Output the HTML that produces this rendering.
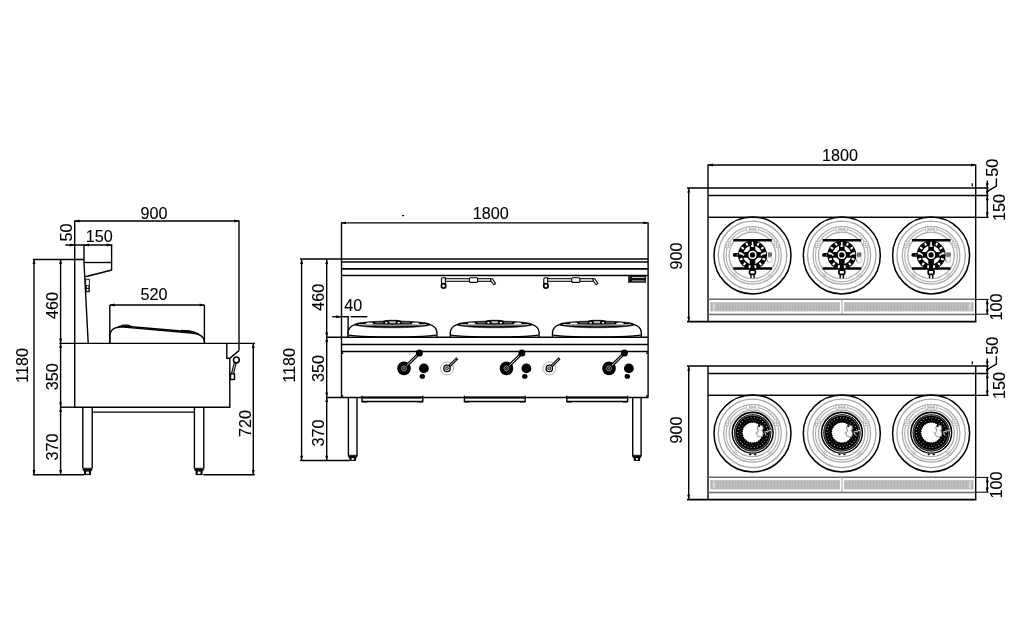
<!DOCTYPE html>
<html lang="en">
<head>
<meta charset="utf-8">
<title>Wok range dimension drawing</title>
<style>
html,body{margin:0;padding:0;background:#fff;}
body{width:1029px;height:640px;overflow:hidden;}
svg{display:block;will-change:transform;}
svg text{font-family:"Liberation Sans","DejaVu Sans",sans-serif;fill:#000;stroke:#000;stroke-width:0.1px;}
</style>
</head>
<body>
<svg width="1029" height="640" viewBox="0 0 1029 640" fill="none" stroke="#000" stroke-width="1.4" stroke-linecap="butt" stroke-linejoin="miter">
<defs>
<pattern id="hatch" width="3" height="4" patternUnits="userSpaceOnUse">
<rect x="0" y="0" width="3" height="4" fill="#bcbcbc" stroke="none"/>
<rect x="0" y="0" width="1" height="4" fill="#b4b4b4" stroke="none"/>
</pattern>
</defs>
<rect x="0" y="0" width="1029" height="640" fill="#fff" stroke="none"/>
<g id="side-view">
<line x1="74.70" y1="221.00" x2="239.00" y2="221.00"/>
<polygon points="74.70,221.00 79.50,219.55 79.50,222.45" fill="#000" stroke="none"/>
<polygon points="239.00,221.00 234.20,219.55 234.20,222.45" fill="#000" stroke="none"/>
<text x="154.00" y="218.50" font-size="16.2" text-anchor="middle">900</text>
<line x1="74.70" y1="220.40" x2="74.70" y2="407.20"/>
<line x1="239.00" y1="220.40" x2="239.00" y2="350.50"/>
<text transform="translate(72.40 232.50) rotate(-90)" font-size="16.2" text-anchor="middle">50</text>
<text x="99.30" y="242.00" font-size="16.2" text-anchor="middle">150</text>
<line x1="65.30" y1="245.00" x2="112.30" y2="245.00"/>
<polygon points="74.70,245.00 69.90,243.55 69.90,246.45" fill="#000" stroke="none"/>
<polygon points="84.00,245.00 88.80,243.55 88.80,246.45" fill="#000" stroke="none"/>
<polygon points="111.60,245.00 106.80,243.55 106.80,246.45" fill="#000" stroke="none"/>
<path d="M84 245 L84 262.5 L88.2 343.3"/>
<line x1="111.60" y1="245.00" x2="111.60" y2="270.20"/>
<line x1="84.00" y1="262.50" x2="111.60" y2="262.50"/>
<line x1="111.90" y1="270.00" x2="85.40" y2="276.70"/>
<line x1="33.00" y1="259.50" x2="84.00" y2="259.50"/>
<rect x="85.70" y="279.20" width="3.60" height="12.60" stroke-width="0.9"/>
<rect x="86.30" y="285.50" width="2.60" height="2.60" stroke-width="0.7"/>
<rect x="86.30" y="288.60" width="2.60" height="2.60" stroke-width="0.7"/>
<line x1="34.00" y1="259.30" x2="34.00" y2="474.70"/>
<polygon points="34.00,259.30 32.55,264.10 35.45,264.10" fill="#000" stroke="none"/>
<polygon points="34.00,474.70 32.55,469.90 35.45,469.90" fill="#000" stroke="none"/>
<line x1="60.60" y1="259.30" x2="60.60" y2="474.70"/>
<polygon points="60.60,259.30 59.15,264.10 62.05,264.10" fill="#000" stroke="none"/>
<polygon points="60.60,343.30 59.15,338.50 62.05,338.50" fill="#000" stroke="none"/>
<polygon points="60.60,343.30 59.15,348.10 62.05,348.10" fill="#000" stroke="none"/>
<polygon points="60.60,407.20 59.15,402.40 62.05,402.40" fill="#000" stroke="none"/>
<polygon points="60.60,407.20 59.15,412.00 62.05,412.00" fill="#000" stroke="none"/>
<polygon points="60.60,474.70 59.15,469.90 62.05,469.90" fill="#000" stroke="none"/>
<text transform="translate(27.60 365.50) rotate(-90)" font-size="16.2" text-anchor="middle">1180</text>
<text transform="translate(58.30 305.40) rotate(-90)" font-size="16.2" text-anchor="middle">460</text>
<text transform="translate(58.20 376.80) rotate(-90)" font-size="16.2" text-anchor="middle">350</text>
<text transform="translate(58.20 446.90) rotate(-90)" font-size="16.2" text-anchor="middle">370</text>
<line x1="59.40" y1="343.40" x2="255.00" y2="343.40"/>
<line x1="60.00" y1="407.20" x2="75.00" y2="407.20"/>
<text x="154.00" y="300.40" font-size="16.2" text-anchor="middle">520</text>
<line x1="109.80" y1="305.00" x2="204.40" y2="305.00"/>
<polygon points="109.80,305.00 114.60,303.55 114.60,306.45" fill="#000" stroke="none"/>
<polygon points="204.40,305.00 199.60,303.55 199.60,306.45" fill="#000" stroke="none"/>
<line x1="109.80" y1="305.00" x2="109.80" y2="343.30"/>
<line x1="204.40" y1="305.00" x2="204.40" y2="343.30"/>
<path d="M109.8 343 L109.8 335.8 C110 331.8 112.4 328.9 116 327.7 L121 326.9 L194 333.3 C199.6 334.2 203.6 336.9 204.4 340.8 L204.4 343" stroke-width="1.4"/>
<path d="M118 326.7 L122.5 325.9 L193 332.0 L198.5 333.9" stroke-width="1.5"/>
<path d="M121 325.8 L123.4 325.0 L128 325.1 L131 326.2" stroke-width="1.2"/>
<path d="M181 330.4 L189.5 330.8 L195 332.5" stroke-width="1.2"/>
<path d="M74.7 407.2 L229.8 407.2 L229.8 358.3"/>
<path d="M226.8 343.3 L226.8 358.3 L229.8 358.3 L239 350.6"/>
<path d="M235.4 362.4 L232.4 374" stroke-width="3.0"/>
<path d="M235.2 363.2 L232.6 373.4" stroke-width="0.8" stroke="#fff"/>
<circle cx="236.40" cy="359.90" r="2.90" stroke-width="1.5" fill="#fff"/>
<rect x="230.50" y="373.90" width="4.00" height="5.60" stroke-width="1.4" fill="#fff"/>
<line x1="82.80" y1="407.20" x2="82.80" y2="468.60"/>
<line x1="92.20" y1="407.20" x2="92.20" y2="468.60"/>
<rect x="83.00" y="468.20" width="9.00" height="2.60" stroke-width="0.6" fill="#000" rx="0.8"/>
<rect x="84.00" y="470.40" width="7.00" height="4.70" stroke-width="0" fill="#000"/>
<rect x="86.10" y="471.60" width="2.80" height="2.30" stroke-width="0" fill="#fff"/>
<line x1="194.40" y1="407.20" x2="194.40" y2="468.60"/>
<line x1="203.80" y1="407.20" x2="203.80" y2="468.60"/>
<rect x="194.60" y="468.20" width="9.00" height="2.60" stroke-width="0.6" fill="#000" rx="0.8"/>
<rect x="195.60" y="470.40" width="7.00" height="4.70" stroke-width="0" fill="#000"/>
<rect x="197.70" y="471.60" width="2.80" height="2.30" stroke-width="0" fill="#fff"/>
<line x1="92.20" y1="412.10" x2="194.40" y2="412.10"/>
<line x1="32.80" y1="474.70" x2="84.00" y2="474.70"/>
<line x1="203.40" y1="474.70" x2="254.80" y2="474.70"/>
<line x1="253.30" y1="343.30" x2="253.30" y2="474.70"/>
<polygon points="253.30,343.30 251.85,348.10 254.75,348.10" fill="#000" stroke="none"/>
<polygon points="253.30,474.70 251.85,469.90 254.75,469.90" fill="#000" stroke="none"/>
<text transform="translate(251.10 423.50) rotate(-90)" font-size="16.2" text-anchor="middle">720</text>
</g>
<g id="front-view">
<line x1="341.20" y1="222.90" x2="648.20" y2="222.90"/>
<polygon points="341.20,222.90 346.00,221.45 346.00,224.35" fill="#000" stroke="none"/>
<polygon points="648.20,222.90 643.40,221.45 643.40,224.35" fill="#000" stroke="none"/>
<text x="490.80" y="219.30" font-size="16.2" text-anchor="middle">1800</text>
<rect x="402.00" y="214.90" width="2.10" height="1.30" stroke-width="0" fill="#000" rx="0.4"/>
<line x1="341.50" y1="222.50" x2="341.50" y2="397.40"/>
<line x1="648.10" y1="222.50" x2="648.10" y2="397.40"/>
<line x1="300.00" y1="259.10" x2="648.20" y2="259.10" stroke-width="1.5"/>
<line x1="341.20" y1="262.00" x2="648.20" y2="262.00" stroke-width="1.5"/>
<line x1="341.20" y1="268.90" x2="648.20" y2="268.90" stroke-width="1.6"/>
<line x1="341.20" y1="275.50" x2="648.20" y2="275.50" stroke-width="1.3"/>
<line x1="301.60" y1="259.20" x2="301.60" y2="460.50"/>
<polygon points="301.60,259.20 300.15,264.00 303.05,264.00" fill="#000" stroke="none"/>
<polygon points="301.60,460.50 300.15,455.70 303.05,455.70" fill="#000" stroke="none"/>
<line x1="326.70" y1="259.20" x2="326.70" y2="460.50"/>
<polygon points="326.70,259.20 325.25,264.00 328.15,264.00" fill="#000" stroke="none"/>
<polygon points="326.70,337.30 325.25,332.50 328.15,332.50" fill="#000" stroke="none"/>
<polygon points="326.70,337.30 325.25,342.10 328.15,342.10" fill="#000" stroke="none"/>
<polygon points="326.70,397.20 325.25,392.40 328.15,392.40" fill="#000" stroke="none"/>
<polygon points="326.70,397.20 325.25,402.00 328.15,402.00" fill="#000" stroke="none"/>
<polygon points="326.70,460.50 325.25,455.70 328.15,455.70" fill="#000" stroke="none"/>
<text transform="translate(294.60 365.40) rotate(-90)" font-size="16.2" text-anchor="middle">1180</text>
<text transform="translate(324.20 297.30) rotate(-90)" font-size="16.2" text-anchor="middle">460</text>
<text transform="translate(324.20 368.40) rotate(-90)" font-size="16.2" text-anchor="middle">350</text>
<text transform="translate(324.20 433.10) rotate(-90)" font-size="16.2" text-anchor="middle">370</text>
<text x="353.30" y="310.70" font-size="16.2" text-anchor="middle">40</text>
<line x1="332.20" y1="316.70" x2="349.00" y2="316.70"/>
<line x1="350.70" y1="316.70" x2="367.30" y2="316.70"/>
<polygon points="341.20,316.70 336.40,315.25 336.40,318.15" fill="#000" stroke="none"/>
<line x1="348.10" y1="316.00" x2="348.10" y2="337.30"/>
<path d="M348.10 337.30 L348.10 331.90 C348.60 328.10 351.30 325.70 355.10 324.60 L429.90 324.60 C433.70 325.70 436.40 328.10 436.90 331.90 L436.90 337.30" stroke-width="1.4" fill="#fff"/>
<path d="M348.70 335.10 C360.10 336.60 370.10 336.80 378.10 336.80 L406.90 336.80 C414.90 336.80 424.90 336.60 436.30 335.10" stroke-width="1.1"/>
<ellipse cx="392.50" cy="324.40" rx="37.60" ry="3.40" stroke-width="0.5" fill="#000"/>
<path d="M383.50 321.30 Q386.50 320.40 388.50 320.30 L396.50 320.30 Q398.50 320.40 401.50 321.30 Z" stroke-width="0.8" fill="#000"/>
<path d="M358.50 324.50 Q392.50 325.90 426.50 324.50" stroke-width="0.8" stroke="#fff"/>
<path d="M361.50 325.20 Q392.50 326.90 423.50 325.20" stroke-width="0.6" stroke="#999"/>
<ellipse cx="369.50" cy="323.40" rx="3.80" ry="0.85" stroke-width="0" fill="#fff"/>
<rect x="375.30" y="322.40" width="8.00" height="0.90" stroke-width="0" fill="#9a9a9a"/>
<rect x="385.20" y="322.00" width="2.20" height="1.40" stroke-width="0" fill="#fff"/>
<ellipse cx="415.50" cy="323.40" rx="3.80" ry="0.85" stroke-width="0" fill="#fff"/>
<rect x="401.70" y="322.40" width="8.00" height="0.90" stroke-width="0" fill="#9a9a9a"/>
<rect x="397.60" y="322.00" width="2.20" height="1.40" stroke-width="0" fill="#fff"/>
<rect x="389.30" y="321.20" width="6.40" height="2.10" stroke-width="0" fill="#c0c0c0"/>
<path d="M450.30 337.30 L450.30 331.90 C450.80 328.10 453.50 325.70 457.30 324.60 L532.10 324.60 C535.90 325.70 538.60 328.10 539.10 331.90 L539.10 337.30" stroke-width="1.4" fill="#fff"/>
<path d="M450.90 335.10 C462.30 336.60 472.30 336.80 480.30 336.80 L509.10 336.80 C517.10 336.80 527.10 336.60 538.50 335.10" stroke-width="1.1"/>
<ellipse cx="494.70" cy="324.40" rx="37.60" ry="3.40" stroke-width="0.5" fill="#000"/>
<path d="M485.70 321.30 Q488.70 320.40 490.70 320.30 L498.70 320.30 Q500.70 320.40 503.70 321.30 Z" stroke-width="0.8" fill="#000"/>
<path d="M460.70 324.50 Q494.70 325.90 528.70 324.50" stroke-width="0.8" stroke="#fff"/>
<path d="M463.70 325.20 Q494.70 326.90 525.70 325.20" stroke-width="0.6" stroke="#999"/>
<ellipse cx="471.70" cy="323.40" rx="3.80" ry="0.85" stroke-width="0" fill="#fff"/>
<rect x="477.50" y="322.40" width="8.00" height="0.90" stroke-width="0" fill="#9a9a9a"/>
<rect x="487.40" y="322.00" width="2.20" height="1.40" stroke-width="0" fill="#fff"/>
<ellipse cx="517.70" cy="323.40" rx="3.80" ry="0.85" stroke-width="0" fill="#fff"/>
<rect x="503.90" y="322.40" width="8.00" height="0.90" stroke-width="0" fill="#9a9a9a"/>
<rect x="499.80" y="322.00" width="2.20" height="1.40" stroke-width="0" fill="#fff"/>
<rect x="491.50" y="321.20" width="6.40" height="2.10" stroke-width="0" fill="#c0c0c0"/>
<path d="M552.50 337.30 L552.50 331.90 C553.00 328.10 555.70 325.70 559.50 324.60 L634.30 324.60 C638.10 325.70 640.80 328.10 641.30 331.90 L641.30 337.30" stroke-width="1.4" fill="#fff"/>
<path d="M553.10 335.10 C564.50 336.60 574.50 336.80 582.50 336.80 L611.30 336.80 C619.30 336.80 629.30 336.60 640.70 335.10" stroke-width="1.1"/>
<ellipse cx="596.90" cy="324.40" rx="37.60" ry="3.40" stroke-width="0.5" fill="#000"/>
<path d="M587.90 321.30 Q590.90 320.40 592.90 320.30 L600.90 320.30 Q602.90 320.40 605.90 321.30 Z" stroke-width="0.8" fill="#000"/>
<path d="M562.90 324.50 Q596.90 325.90 630.90 324.50" stroke-width="0.8" stroke="#fff"/>
<path d="M565.90 325.20 Q596.90 326.90 627.90 325.20" stroke-width="0.6" stroke="#999"/>
<ellipse cx="573.90" cy="323.40" rx="3.80" ry="0.85" stroke-width="0" fill="#fff"/>
<rect x="579.70" y="322.40" width="8.00" height="0.90" stroke-width="0" fill="#9a9a9a"/>
<rect x="589.60" y="322.00" width="2.20" height="1.40" stroke-width="0" fill="#fff"/>
<ellipse cx="619.90" cy="323.40" rx="3.80" ry="0.85" stroke-width="0" fill="#fff"/>
<rect x="606.10" y="322.40" width="8.00" height="0.90" stroke-width="0" fill="#9a9a9a"/>
<rect x="602.00" y="322.00" width="2.20" height="1.40" stroke-width="0" fill="#fff"/>
<rect x="593.70" y="321.20" width="6.40" height="2.10" stroke-width="0" fill="#c0c0c0"/>
<line x1="326.00" y1="337.30" x2="648.20" y2="337.30" stroke-width="1.5"/>
<line x1="341.20" y1="344.50" x2="648.20" y2="344.50" stroke-width="1.3"/>
<line x1="341.20" y1="351.60" x2="648.20" y2="351.60" stroke-width="1.5"/>
<line x1="326.00" y1="397.40" x2="648.20" y2="397.40" stroke-width="1.5"/>
<line x1="300.00" y1="460.50" x2="349.50" y2="460.50"/>
<rect x="341.60" y="352.40" width="1.60" height="1.60" stroke-width="0" fill="#000"/>
<rect x="646.20" y="352.40" width="1.60" height="1.60" stroke-width="0" fill="#000"/>
<rect x="341.60" y="395.00" width="1.60" height="1.60" stroke-width="0" fill="#000"/>
<rect x="646.20" y="395.00" width="1.60" height="1.60" stroke-width="0" fill="#000"/>
<line x1="348.40" y1="397.40" x2="348.40" y2="456.20"/>
<line x1="357.00" y1="397.40" x2="357.00" y2="456.20"/>
<rect x="348.50" y="455.20" width="8.40" height="2.60" stroke-width="0.6" fill="#000" rx="0.8"/>
<rect x="349.40" y="457.00" width="6.60" height="3.90" stroke-width="0" fill="#000"/>
<rect x="351.60" y="458.10" width="2.20" height="1.80" stroke-width="0" fill="#fff"/>
<line x1="632.70" y1="397.40" x2="632.70" y2="456.20"/>
<line x1="641.10" y1="397.40" x2="641.10" y2="456.20"/>
<rect x="632.80" y="455.20" width="8.20" height="2.60" stroke-width="0.6" fill="#000" rx="0.8"/>
<rect x="633.70" y="457.00" width="6.40" height="3.90" stroke-width="0" fill="#000"/>
<rect x="635.90" y="458.10" width="2.00" height="1.80" stroke-width="0" fill="#fff"/>
<path d="M362.00 395.8 L362.00 401.5 L422.80 401.5 L422.80 395.8" stroke-width="1.4"/>
<line x1="362.00" y1="397.60" x2="422.80" y2="397.60" stroke-width="2.0"/>
<line x1="362.20" y1="402.00" x2="367.20" y2="402.00" stroke-width="1.0"/>
<line x1="417.60" y1="402.00" x2="422.60" y2="402.00" stroke-width="1.0"/>
<path d="M464.40 395.8 L464.40 401.5 L525.20 401.5 L525.20 395.8" stroke-width="1.4"/>
<line x1="464.40" y1="397.60" x2="525.20" y2="397.60" stroke-width="2.0"/>
<line x1="464.60" y1="402.00" x2="469.60" y2="402.00" stroke-width="1.0"/>
<line x1="520.00" y1="402.00" x2="525.00" y2="402.00" stroke-width="1.0"/>
<path d="M566.80 395.8 L566.80 401.5 L627.60 401.5 L627.60 395.8" stroke-width="1.4"/>
<line x1="566.80" y1="397.60" x2="627.60" y2="397.60" stroke-width="2.0"/>
<line x1="567.00" y1="402.00" x2="572.00" y2="402.00" stroke-width="1.0"/>
<line x1="622.40" y1="402.00" x2="627.40" y2="402.00" stroke-width="1.0"/>
<ellipse cx="422.30" cy="376.40" rx="2.70" ry="2.40" stroke-width="0" fill="#000"/>
<circle cx="423.90" cy="368.40" r="4.90" stroke-width="0" fill="#000"/>
<circle cx="404.00" cy="368.40" r="6.80" stroke-width="0" fill="#000"/>
<line x1="405.50" y1="366.90" x2="419.40" y2="353.10" stroke-width="3.0"/>
<line x1="406.80" y1="365.60" x2="417.60" y2="354.90" stroke-width="0.9" stroke="#fff"/>
<circle cx="419.40" cy="353.10" r="3.50" stroke-width="0" fill="#000"/>
<circle cx="404.00" cy="368.40" r="2.50" stroke-width="0.6" stroke="#d8d8d8" fill="#000"/>
<circle cx="404.00" cy="368.40" r="0.90" stroke-width="0.5" stroke="#e8e8e8" fill="#000"/>
<ellipse cx="524.80" cy="376.40" rx="2.70" ry="2.40" stroke-width="0" fill="#000"/>
<circle cx="526.40" cy="368.40" r="4.90" stroke-width="0" fill="#000"/>
<circle cx="506.50" cy="368.40" r="6.80" stroke-width="0" fill="#000"/>
<line x1="508.00" y1="366.90" x2="521.90" y2="353.10" stroke-width="3.0"/>
<line x1="509.30" y1="365.60" x2="520.10" y2="354.90" stroke-width="0.9" stroke="#fff"/>
<circle cx="521.90" cy="353.10" r="3.50" stroke-width="0" fill="#000"/>
<circle cx="506.50" cy="368.40" r="2.50" stroke-width="0.6" stroke="#d8d8d8" fill="#000"/>
<circle cx="506.50" cy="368.40" r="0.90" stroke-width="0.5" stroke="#e8e8e8" fill="#000"/>
<ellipse cx="627.30" cy="376.40" rx="2.70" ry="2.40" stroke-width="0" fill="#000"/>
<circle cx="628.90" cy="368.40" r="4.90" stroke-width="0" fill="#000"/>
<circle cx="609.00" cy="368.40" r="6.80" stroke-width="0" fill="#000"/>
<line x1="610.50" y1="366.90" x2="624.40" y2="353.10" stroke-width="3.0"/>
<line x1="611.80" y1="365.60" x2="622.60" y2="354.90" stroke-width="0.9" stroke="#fff"/>
<circle cx="624.40" cy="353.10" r="3.50" stroke-width="0" fill="#000"/>
<circle cx="609.00" cy="368.40" r="2.50" stroke-width="0.6" stroke="#d8d8d8" fill="#000"/>
<circle cx="609.00" cy="368.40" r="0.90" stroke-width="0.5" stroke="#e8e8e8" fill="#000"/>
<circle cx="447.00" cy="368.40" r="6.50" stroke-width="1.0" stroke="#b0b0b0" fill="#fff"/>
<line x1="448.50" y1="366.90" x2="457.30" y2="358.20" stroke-width="2.8"/>
<line x1="449.60" y1="365.80" x2="456.40" y2="359.10" stroke-width="0.8" stroke="#fff"/>
<circle cx="447.00" cy="368.40" r="3.20" stroke-width="1.3" fill="#fff"/>
<circle cx="447.00" cy="368.40" r="1.50" stroke-width="0.9" fill="#aaa"/>
<circle cx="549.30" cy="368.40" r="6.50" stroke-width="1.0" stroke="#b0b0b0" fill="#fff"/>
<line x1="550.80" y1="366.90" x2="559.60" y2="358.20" stroke-width="2.8"/>
<line x1="551.90" y1="365.80" x2="558.70" y2="359.10" stroke-width="0.8" stroke="#fff"/>
<circle cx="549.30" cy="368.40" r="3.20" stroke-width="1.3" fill="#fff"/>
<circle cx="549.30" cy="368.40" r="1.50" stroke-width="0.9" fill="#aaa"/>
<path d="M441.50 284.20 L441.50 279.00 Q441.50 277.70 442.80 277.70 L445.40 277.70 L445.40 284.20" stroke-width="1.15" fill="#fff"/>
<circle cx="443.60" cy="285.90" r="2.20" stroke-width="1.7" fill="#fff"/>
<rect x="445.40" y="278.70" width="45.60" height="2.60" stroke-width="1.05" fill="#fff"/>
<rect x="469.40" y="277.70" width="8.20" height="4.60" stroke-width="1.15" fill="#fff" rx="1.0"/>
<path d="M490.40 278.70 L492.40 278.70 L495.60 283.40 L493.80 284.80 L491.20 281.30 Z" stroke-width="1.1" fill="#fff"/>
<path d="M543.80 284.20 L543.80 279.00 Q543.80 277.70 545.10 277.70 L547.70 277.70 L547.70 284.20" stroke-width="1.15" fill="#fff"/>
<circle cx="545.90" cy="285.90" r="2.20" stroke-width="1.7" fill="#fff"/>
<rect x="547.70" y="278.70" width="45.60" height="2.60" stroke-width="1.05" fill="#fff"/>
<rect x="571.70" y="277.70" width="8.20" height="4.60" stroke-width="1.15" fill="#fff" rx="1.0"/>
<path d="M592.70 278.70 L594.70 278.70 L597.90 283.40 L596.10 284.80 L593.50 281.30 Z" stroke-width="1.1" fill="#fff"/>
<rect x="628.40" y="276.20" width="17.40" height="6.20" stroke-width="0.5" fill="#111"/>
<rect x="632.00" y="277.00" width="12.60" height="0.90" stroke-width="0" fill="#e0e0e0"/>
<rect x="632.00" y="280.20" width="12.60" height="1.20" stroke-width="0" fill="#8a8a8a"/>
<rect x="629.40" y="277.20" width="1.40" height="1.40" stroke-width="0" fill="#444"/>
</g>
<g id="top-view-a">
<line x1="708.00" y1="165.00" x2="975.70" y2="165.00"/>
<polygon points="708.00,165.00 712.80,163.55 712.80,166.45" fill="#000" stroke="none"/>
<polygon points="975.70,165.00 970.90,163.55 970.90,166.45" fill="#000" stroke="none"/>
<text x="840.00" y="161.40" font-size="16.2" text-anchor="middle">1800</text>
<line x1="708.00" y1="164.40" x2="708.00" y2="188.00"/>
<line x1="975.70" y1="164.40" x2="975.70" y2="188.00"/>
<line x1="708.00" y1="188.00" x2="708.00" y2="321.60"/>
<line x1="975.70" y1="188.00" x2="975.70" y2="321.60"/>
<line x1="687.00" y1="188.00" x2="988.60" y2="188.00" stroke-width="1.3"/>
<line x1="708.00" y1="195.50" x2="988.60" y2="195.50" stroke-width="1.5"/>
<line x1="708.00" y1="217.40" x2="988.60" y2="217.40" stroke-width="1.3"/>
<line x1="687.00" y1="321.70" x2="976.40" y2="321.70" stroke-width="1.7"/>
<line x1="688.70" y1="188.00" x2="688.70" y2="321.60"/>
<polygon points="688.70,188.00 687.25,192.80 690.15,192.80" fill="#000" stroke="none"/>
<polygon points="688.70,321.60 687.25,316.80 690.15,316.80" fill="#000" stroke="none"/>
<text transform="translate(682.40 255.90) rotate(-90)" font-size="16.2" text-anchor="middle">900</text>
<line x1="987.30" y1="180.40" x2="987.30" y2="217.40"/>
<polygon points="987.30,188.00 985.85,183.20 988.75,183.20" fill="#000" stroke="none"/>
<polygon points="987.30,195.50 985.85,200.30 988.75,200.30" fill="#000" stroke="none"/>
<polygon points="987.30,195.50 985.85,190.70 988.75,190.70" fill="#000" stroke="none"/>
<polygon points="987.30,217.40 985.85,212.60 988.75,212.60" fill="#000" stroke="none"/>
<path d="M987.3 191.40 L996.4 186.20 L996.4 178.20" stroke-width="1.4"/>
<text transform="translate(998.10 167.80) rotate(-90)" font-size="16.2" text-anchor="middle">50</text>
<text transform="translate(1005.10 207.40) rotate(-90)" font-size="16.2" text-anchor="middle">150</text>
<line x1="972.30" y1="183.20" x2="972.30" y2="186.20" stroke-width="1.3"/>
<circle cx="752.50" cy="255.40" r="38.50" stroke-width="1.5" fill="#fff"/>
<circle cx="752.50" cy="255.40" r="34.20" stroke-width="1.3" stroke="#a4a4a4"/>
<circle cx="752.50" cy="255.40" r="28.80" stroke-width="1.3" stroke="#ababab"/>
<circle cx="752.50" cy="255.40" r="26.40" stroke-width="1.2" stroke="#b4b4b4"/>
<circle cx="752.50" cy="255.40" r="23.30" stroke-width="1.3" stroke="#ababab"/>
<rect x="746.80" y="227.00" width="2.40" height="4.20" stroke-width="0.6" stroke="#a4a4a4" fill="#fff"/>
<rect x="755.80" y="227.00" width="2.40" height="4.20" stroke-width="0.6" stroke="#a4a4a4" fill="#fff"/>
<line x1="749.20" y1="229.00" x2="755.80" y2="229.00" stroke-width="0.6" stroke="#a4a4a4"/>
<line x1="749.20" y1="230.20" x2="755.80" y2="230.20" stroke-width="0.6" stroke="#a4a4a4"/>
<rect x="726.10" y="241.80" width="4.80" height="5.60" stroke-width="0.6" stroke="#a4a4a4" fill="#fff"/>
<line x1="726.10" y1="243.70" x2="730.90" y2="243.70" stroke-width="0.6" stroke="#a4a4a4"/>
<line x1="726.10" y1="245.50" x2="730.90" y2="245.50" stroke-width="0.6" stroke="#a4a4a4"/>
<line x1="728.50" y1="241.80" x2="728.50" y2="247.40" stroke-width="0.6" stroke="#a4a4a4"/>
<line x1="736.61" y1="272.03" x2="732.46" y2="276.36" stroke-width="0.7" stroke="#a4a4a4"/>
<line x1="737.93" y1="273.20" x2="734.13" y2="277.84" stroke-width="0.7" stroke="#a4a4a4"/>
<rect x="774.10" y="241.80" width="4.80" height="5.60" stroke-width="0.6" stroke="#a4a4a4" fill="#fff"/>
<line x1="774.10" y1="243.70" x2="778.90" y2="243.70" stroke-width="0.6" stroke="#a4a4a4"/>
<line x1="774.10" y1="245.50" x2="778.90" y2="245.50" stroke-width="0.6" stroke="#a4a4a4"/>
<line x1="776.50" y1="241.80" x2="776.50" y2="247.40" stroke-width="0.6" stroke="#a4a4a4"/>
<line x1="768.39" y1="272.03" x2="772.54" y2="276.36" stroke-width="0.7" stroke="#a4a4a4"/>
<line x1="767.07" y1="273.20" x2="770.87" y2="277.84" stroke-width="0.7" stroke="#a4a4a4"/>
<line x1="733.30" y1="240.20" x2="771.90" y2="240.20" stroke-width="2.5"/>
<line x1="733.30" y1="268.50" x2="771.90" y2="268.50" stroke-width="2.5"/>
<line x1="734.70" y1="254.90" x2="739.50" y2="254.90" stroke-width="3.9" stroke-linecap="round"/>
<rect x="736.70" y="254.40" width="1.30" height="1.00" stroke-width="0" fill="#ccc"/>
<rect x="768.10" y="252.90" width="3.60" height="3.40" stroke-width="0.6" stroke="#444" fill="#777"/>
<polygon points="766.10,258.50 771.30,256.90 772.50,261.50 767.70,263.10" fill="#fff" stroke="#b4b4b4" stroke-width="0.7"/>
<line x1="765.70" y1="257.90" x2="768.10" y2="261.50" stroke-width="0.8" stroke="#555"/>
<circle cx="752.50" cy="254.90" r="14.50" stroke-width="0" fill="#000"/>
<circle cx="752.50" cy="254.90" r="7.60" stroke-width="3.6" stroke="#fff"/>
<line x1="757.43" y1="245.51" x2="758.77" y2="242.95" stroke-width="1.9" stroke="#fff"/>
<line x1="761.22" y1="248.88" x2="763.61" y2="247.23" stroke-width="1.9" stroke="#fff"/>
<line x1="763.02" y1="253.62" x2="765.90" y2="253.27" stroke-width="1.9" stroke="#fff"/>
<line x1="762.41" y1="258.66" x2="765.12" y2="259.69" stroke-width="1.9" stroke="#fff"/>
<line x1="759.53" y1="262.83" x2="761.45" y2="265.00" stroke-width="1.9" stroke="#fff"/>
<line x1="755.04" y1="265.19" x2="755.73" y2="268.01" stroke-width="1.9" stroke="#fff"/>
<line x1="749.96" y1="265.19" x2="749.27" y2="268.01" stroke-width="1.9" stroke="#fff"/>
<line x1="745.47" y1="262.83" x2="743.55" y2="265.00" stroke-width="1.9" stroke="#fff"/>
<line x1="742.59" y1="258.66" x2="739.88" y2="259.69" stroke-width="1.9" stroke="#fff"/>
<line x1="741.98" y1="253.62" x2="739.10" y2="253.27" stroke-width="1.9" stroke="#fff"/>
<line x1="743.78" y1="248.88" x2="741.39" y2="247.23" stroke-width="1.9" stroke="#fff"/>
<line x1="747.57" y1="245.51" x2="746.23" y2="242.95" stroke-width="1.9" stroke="#fff"/>
<rect x="749.70" y="244.70" width="5.60" height="20.40" stroke-width="0" fill="#000"/>
<rect x="742.30" y="252.10" width="20.40" height="5.60" stroke-width="0" fill="#000"/>
<path d="M752.50 241.70 L752.50 246.50" stroke-width="1.5" stroke="#fff"/>
<path d="M751.00 246.10 L754.00 246.10" stroke-width="1.3" stroke="#fff"/>
<path d="M739.50 253.30 Q742.10 252.70 744.10 255.50" stroke-width="1.5" stroke="#fff"/>
<path d="M765.50 253.30 Q762.90 252.70 760.90 255.50" stroke-width="1.5" stroke="#fff"/>
<rect x="750.90" y="263.40" width="3.20" height="6.50" stroke-width="0" fill="#000"/>
<circle cx="752.50" cy="254.90" r="3.35" stroke-width="1.4" stroke="#fff" fill="#000"/>
<rect x="749.60" y="270.10" width="5.80" height="4.20" stroke-width="1.8" fill="#fff" rx="1.2"/>
<line x1="750.90" y1="274.70" x2="750.90" y2="278.10" stroke-width="1.4"/>
<line x1="754.10" y1="274.70" x2="754.10" y2="278.10" stroke-width="1.4"/>
<circle cx="841.80" cy="255.40" r="38.50" stroke-width="1.5" fill="#fff"/>
<circle cx="841.80" cy="255.40" r="34.20" stroke-width="1.3" stroke="#a4a4a4"/>
<circle cx="841.80" cy="255.40" r="28.80" stroke-width="1.3" stroke="#ababab"/>
<circle cx="841.80" cy="255.40" r="26.40" stroke-width="1.2" stroke="#b4b4b4"/>
<circle cx="841.80" cy="255.40" r="23.30" stroke-width="1.3" stroke="#ababab"/>
<rect x="836.10" y="227.00" width="2.40" height="4.20" stroke-width="0.6" stroke="#a4a4a4" fill="#fff"/>
<rect x="845.10" y="227.00" width="2.40" height="4.20" stroke-width="0.6" stroke="#a4a4a4" fill="#fff"/>
<line x1="838.50" y1="229.00" x2="845.10" y2="229.00" stroke-width="0.6" stroke="#a4a4a4"/>
<line x1="838.50" y1="230.20" x2="845.10" y2="230.20" stroke-width="0.6" stroke="#a4a4a4"/>
<rect x="815.40" y="241.80" width="4.80" height="5.60" stroke-width="0.6" stroke="#a4a4a4" fill="#fff"/>
<line x1="815.40" y1="243.70" x2="820.20" y2="243.70" stroke-width="0.6" stroke="#a4a4a4"/>
<line x1="815.40" y1="245.50" x2="820.20" y2="245.50" stroke-width="0.6" stroke="#a4a4a4"/>
<line x1="817.80" y1="241.80" x2="817.80" y2="247.40" stroke-width="0.6" stroke="#a4a4a4"/>
<line x1="825.91" y1="272.03" x2="821.76" y2="276.36" stroke-width="0.7" stroke="#a4a4a4"/>
<line x1="827.23" y1="273.20" x2="823.43" y2="277.84" stroke-width="0.7" stroke="#a4a4a4"/>
<rect x="863.40" y="241.80" width="4.80" height="5.60" stroke-width="0.6" stroke="#a4a4a4" fill="#fff"/>
<line x1="863.40" y1="243.70" x2="868.20" y2="243.70" stroke-width="0.6" stroke="#a4a4a4"/>
<line x1="863.40" y1="245.50" x2="868.20" y2="245.50" stroke-width="0.6" stroke="#a4a4a4"/>
<line x1="865.80" y1="241.80" x2="865.80" y2="247.40" stroke-width="0.6" stroke="#a4a4a4"/>
<line x1="857.69" y1="272.03" x2="861.84" y2="276.36" stroke-width="0.7" stroke="#a4a4a4"/>
<line x1="856.37" y1="273.20" x2="860.17" y2="277.84" stroke-width="0.7" stroke="#a4a4a4"/>
<line x1="822.60" y1="240.20" x2="861.20" y2="240.20" stroke-width="2.5"/>
<line x1="822.60" y1="268.50" x2="861.20" y2="268.50" stroke-width="2.5"/>
<line x1="824.00" y1="254.90" x2="828.80" y2="254.90" stroke-width="3.9" stroke-linecap="round"/>
<rect x="826.00" y="254.40" width="1.30" height="1.00" stroke-width="0" fill="#ccc"/>
<rect x="857.40" y="252.90" width="3.60" height="3.40" stroke-width="0.6" stroke="#444" fill="#777"/>
<polygon points="855.40,258.50 860.60,256.90 861.80,261.50 857.00,263.10" fill="#fff" stroke="#b4b4b4" stroke-width="0.7"/>
<line x1="855.00" y1="257.90" x2="857.40" y2="261.50" stroke-width="0.8" stroke="#555"/>
<circle cx="841.80" cy="254.90" r="14.50" stroke-width="0" fill="#000"/>
<circle cx="841.80" cy="254.90" r="7.60" stroke-width="3.6" stroke="#fff"/>
<line x1="846.73" y1="245.51" x2="848.07" y2="242.95" stroke-width="1.9" stroke="#fff"/>
<line x1="850.52" y1="248.88" x2="852.91" y2="247.23" stroke-width="1.9" stroke="#fff"/>
<line x1="852.32" y1="253.62" x2="855.20" y2="253.27" stroke-width="1.9" stroke="#fff"/>
<line x1="851.71" y1="258.66" x2="854.42" y2="259.69" stroke-width="1.9" stroke="#fff"/>
<line x1="848.83" y1="262.83" x2="850.75" y2="265.00" stroke-width="1.9" stroke="#fff"/>
<line x1="844.34" y1="265.19" x2="845.03" y2="268.01" stroke-width="1.9" stroke="#fff"/>
<line x1="839.26" y1="265.19" x2="838.57" y2="268.01" stroke-width="1.9" stroke="#fff"/>
<line x1="834.77" y1="262.83" x2="832.85" y2="265.00" stroke-width="1.9" stroke="#fff"/>
<line x1="831.89" y1="258.66" x2="829.18" y2="259.69" stroke-width="1.9" stroke="#fff"/>
<line x1="831.28" y1="253.62" x2="828.40" y2="253.27" stroke-width="1.9" stroke="#fff"/>
<line x1="833.08" y1="248.88" x2="830.69" y2="247.23" stroke-width="1.9" stroke="#fff"/>
<line x1="836.87" y1="245.51" x2="835.53" y2="242.95" stroke-width="1.9" stroke="#fff"/>
<rect x="839.00" y="244.70" width="5.60" height="20.40" stroke-width="0" fill="#000"/>
<rect x="831.60" y="252.10" width="20.40" height="5.60" stroke-width="0" fill="#000"/>
<path d="M841.80 241.70 L841.80 246.50" stroke-width="1.5" stroke="#fff"/>
<path d="M840.30 246.10 L843.30 246.10" stroke-width="1.3" stroke="#fff"/>
<path d="M828.80 253.30 Q831.40 252.70 833.40 255.50" stroke-width="1.5" stroke="#fff"/>
<path d="M854.80 253.30 Q852.20 252.70 850.20 255.50" stroke-width="1.5" stroke="#fff"/>
<rect x="840.20" y="263.40" width="3.20" height="6.50" stroke-width="0" fill="#000"/>
<circle cx="841.80" cy="254.90" r="3.35" stroke-width="1.4" stroke="#fff" fill="#000"/>
<rect x="838.90" y="270.10" width="5.80" height="4.20" stroke-width="1.8" fill="#fff" rx="1.2"/>
<line x1="840.20" y1="274.70" x2="840.20" y2="278.10" stroke-width="1.4"/>
<line x1="843.40" y1="274.70" x2="843.40" y2="278.10" stroke-width="1.4"/>
<circle cx="931.10" cy="255.40" r="38.50" stroke-width="1.5" fill="#fff"/>
<circle cx="931.10" cy="255.40" r="34.20" stroke-width="1.3" stroke="#a4a4a4"/>
<circle cx="931.10" cy="255.40" r="28.80" stroke-width="1.3" stroke="#ababab"/>
<circle cx="931.10" cy="255.40" r="26.40" stroke-width="1.2" stroke="#b4b4b4"/>
<circle cx="931.10" cy="255.40" r="23.30" stroke-width="1.3" stroke="#ababab"/>
<rect x="925.40" y="227.00" width="2.40" height="4.20" stroke-width="0.6" stroke="#a4a4a4" fill="#fff"/>
<rect x="934.40" y="227.00" width="2.40" height="4.20" stroke-width="0.6" stroke="#a4a4a4" fill="#fff"/>
<line x1="927.80" y1="229.00" x2="934.40" y2="229.00" stroke-width="0.6" stroke="#a4a4a4"/>
<line x1="927.80" y1="230.20" x2="934.40" y2="230.20" stroke-width="0.6" stroke="#a4a4a4"/>
<rect x="904.70" y="241.80" width="4.80" height="5.60" stroke-width="0.6" stroke="#a4a4a4" fill="#fff"/>
<line x1="904.70" y1="243.70" x2="909.50" y2="243.70" stroke-width="0.6" stroke="#a4a4a4"/>
<line x1="904.70" y1="245.50" x2="909.50" y2="245.50" stroke-width="0.6" stroke="#a4a4a4"/>
<line x1="907.10" y1="241.80" x2="907.10" y2="247.40" stroke-width="0.6" stroke="#a4a4a4"/>
<line x1="915.21" y1="272.03" x2="911.06" y2="276.36" stroke-width="0.7" stroke="#a4a4a4"/>
<line x1="916.53" y1="273.20" x2="912.73" y2="277.84" stroke-width="0.7" stroke="#a4a4a4"/>
<rect x="952.70" y="241.80" width="4.80" height="5.60" stroke-width="0.6" stroke="#a4a4a4" fill="#fff"/>
<line x1="952.70" y1="243.70" x2="957.50" y2="243.70" stroke-width="0.6" stroke="#a4a4a4"/>
<line x1="952.70" y1="245.50" x2="957.50" y2="245.50" stroke-width="0.6" stroke="#a4a4a4"/>
<line x1="955.10" y1="241.80" x2="955.10" y2="247.40" stroke-width="0.6" stroke="#a4a4a4"/>
<line x1="946.99" y1="272.03" x2="951.14" y2="276.36" stroke-width="0.7" stroke="#a4a4a4"/>
<line x1="945.67" y1="273.20" x2="949.47" y2="277.84" stroke-width="0.7" stroke="#a4a4a4"/>
<line x1="911.90" y1="240.20" x2="950.50" y2="240.20" stroke-width="2.5"/>
<line x1="911.90" y1="268.50" x2="950.50" y2="268.50" stroke-width="2.5"/>
<line x1="913.30" y1="254.90" x2="918.10" y2="254.90" stroke-width="3.9" stroke-linecap="round"/>
<rect x="915.30" y="254.40" width="1.30" height="1.00" stroke-width="0" fill="#ccc"/>
<rect x="946.70" y="252.90" width="3.60" height="3.40" stroke-width="0.6" stroke="#444" fill="#777"/>
<polygon points="944.70,258.50 949.90,256.90 951.10,261.50 946.30,263.10" fill="#fff" stroke="#b4b4b4" stroke-width="0.7"/>
<line x1="944.30" y1="257.90" x2="946.70" y2="261.50" stroke-width="0.8" stroke="#555"/>
<circle cx="931.10" cy="254.90" r="14.50" stroke-width="0" fill="#000"/>
<circle cx="931.10" cy="254.90" r="7.60" stroke-width="3.6" stroke="#fff"/>
<line x1="936.03" y1="245.51" x2="937.37" y2="242.95" stroke-width="1.9" stroke="#fff"/>
<line x1="939.82" y1="248.88" x2="942.21" y2="247.23" stroke-width="1.9" stroke="#fff"/>
<line x1="941.62" y1="253.62" x2="944.50" y2="253.27" stroke-width="1.9" stroke="#fff"/>
<line x1="941.01" y1="258.66" x2="943.72" y2="259.69" stroke-width="1.9" stroke="#fff"/>
<line x1="938.13" y1="262.83" x2="940.05" y2="265.00" stroke-width="1.9" stroke="#fff"/>
<line x1="933.64" y1="265.19" x2="934.33" y2="268.01" stroke-width="1.9" stroke="#fff"/>
<line x1="928.56" y1="265.19" x2="927.87" y2="268.01" stroke-width="1.9" stroke="#fff"/>
<line x1="924.07" y1="262.83" x2="922.15" y2="265.00" stroke-width="1.9" stroke="#fff"/>
<line x1="921.19" y1="258.66" x2="918.48" y2="259.69" stroke-width="1.9" stroke="#fff"/>
<line x1="920.58" y1="253.62" x2="917.70" y2="253.27" stroke-width="1.9" stroke="#fff"/>
<line x1="922.38" y1="248.88" x2="919.99" y2="247.23" stroke-width="1.9" stroke="#fff"/>
<line x1="926.17" y1="245.51" x2="924.83" y2="242.95" stroke-width="1.9" stroke="#fff"/>
<rect x="928.30" y="244.70" width="5.60" height="20.40" stroke-width="0" fill="#000"/>
<rect x="920.90" y="252.10" width="20.40" height="5.60" stroke-width="0" fill="#000"/>
<path d="M931.10 241.70 L931.10 246.50" stroke-width="1.5" stroke="#fff"/>
<path d="M929.60 246.10 L932.60 246.10" stroke-width="1.3" stroke="#fff"/>
<path d="M918.10 253.30 Q920.70 252.70 922.70 255.50" stroke-width="1.5" stroke="#fff"/>
<path d="M944.10 253.30 Q941.50 252.70 939.50 255.50" stroke-width="1.5" stroke="#fff"/>
<rect x="929.50" y="263.40" width="3.20" height="6.50" stroke-width="0" fill="#000"/>
<circle cx="931.10" cy="254.90" r="3.35" stroke-width="1.4" stroke="#fff" fill="#000"/>
<rect x="928.20" y="270.10" width="5.80" height="4.20" stroke-width="1.8" fill="#fff" rx="1.2"/>
<line x1="929.50" y1="274.70" x2="929.50" y2="278.10" stroke-width="1.4"/>
<line x1="932.70" y1="274.70" x2="932.70" y2="278.10" stroke-width="1.4"/>
<line x1="708.00" y1="217.40" x2="975.70" y2="217.40" stroke-width="1.3"/>
<line x1="708.00" y1="299.30" x2="975.70" y2="299.30" stroke-width="1.5" stroke="#6a6a6a"/>
<line x1="708.00" y1="314.40" x2="975.70" y2="314.40" stroke-width="1.5" stroke="#6a6a6a"/>
<rect x="710.2" y="302.20" width="129.8" height="9.2" fill="url(#hatch)" stroke="none"/>
<rect x="844" y="302.20" width="129.6" height="9.2" fill="url(#hatch)" stroke="none"/>
<line x1="842.00" y1="299.30" x2="842.00" y2="314.40" stroke-width="0.9" stroke="#999"/>
<polygon points="713.20,302.20 714.80,304.40 714.80,309.20 713.20,311.40" fill="#fff" stroke="none" opacity="0.55"/>
<polygon points="970.60,302.20 969.00,304.40 969.00,309.20 970.60,311.40" fill="#fff" stroke="none" opacity="0.55"/>
<line x1="975.70" y1="299.40" x2="988.60" y2="299.40" stroke-width="1.0"/>
<line x1="975.70" y1="314.20" x2="988.60" y2="314.20" stroke-width="1.0"/>
<line x1="987.30" y1="299.40" x2="987.30" y2="314.20"/>
<polygon points="987.30,299.40 985.85,304.20 988.75,304.20" fill="#000" stroke="none"/>
<polygon points="987.30,314.20 985.85,309.40 988.75,309.40" fill="#000" stroke="none"/>
<text transform="translate(1002.10 306.90) rotate(-90)" font-size="16.2" text-anchor="middle">100</text>
</g>
<g id="top-view-b">
<line x1="708.00" y1="366.00" x2="708.00" y2="499.60"/>
<line x1="975.70" y1="366.00" x2="975.70" y2="499.60"/>
<line x1="687.00" y1="366.00" x2="988.60" y2="366.00" stroke-width="1.3"/>
<line x1="708.00" y1="373.50" x2="988.60" y2="373.50" stroke-width="1.5"/>
<line x1="708.00" y1="395.40" x2="988.60" y2="395.40" stroke-width="1.3"/>
<line x1="687.00" y1="499.70" x2="976.40" y2="499.70" stroke-width="1.7"/>
<line x1="688.70" y1="366.00" x2="688.70" y2="499.60"/>
<polygon points="688.70,366.00 687.25,370.80 690.15,370.80" fill="#000" stroke="none"/>
<polygon points="688.70,499.60 687.25,494.80 690.15,494.80" fill="#000" stroke="none"/>
<text transform="translate(682.40 429.90) rotate(-90)" font-size="16.2" text-anchor="middle">900</text>
<line x1="987.30" y1="358.40" x2="987.30" y2="395.40"/>
<polygon points="987.30,366.00 985.85,361.20 988.75,361.20" fill="#000" stroke="none"/>
<polygon points="987.30,373.50 985.85,378.30 988.75,378.30" fill="#000" stroke="none"/>
<polygon points="987.30,373.50 985.85,368.70 988.75,368.70" fill="#000" stroke="none"/>
<polygon points="987.30,395.40 985.85,390.60 988.75,390.60" fill="#000" stroke="none"/>
<path d="M987.3 369.40 L996.4 364.20 L996.4 356.20" stroke-width="1.4"/>
<text transform="translate(998.10 345.80) rotate(-90)" font-size="16.2" text-anchor="middle">50</text>
<text transform="translate(1005.10 385.40) rotate(-90)" font-size="16.2" text-anchor="middle">150</text>
<line x1="972.30" y1="361.20" x2="972.30" y2="364.20" stroke-width="1.3"/>
<circle cx="752.50" cy="433.40" r="38.50" stroke-width="1.5" fill="#fff"/>
<circle cx="752.50" cy="433.40" r="34.20" stroke-width="1.3" stroke="#a4a4a4"/>
<circle cx="752.50" cy="433.40" r="28.80" stroke-width="1.3" stroke="#ababab"/>
<circle cx="752.50" cy="433.40" r="26.40" stroke-width="1.2" stroke="#b4b4b4"/>
<circle cx="752.50" cy="433.40" r="23.30" stroke-width="1.3" stroke="#ababab"/>
<rect x="746.80" y="405.00" width="2.40" height="4.20" stroke-width="0.6" stroke="#a4a4a4" fill="#fff"/>
<rect x="755.80" y="405.00" width="2.40" height="4.20" stroke-width="0.6" stroke="#a4a4a4" fill="#fff"/>
<line x1="749.20" y1="407.00" x2="755.80" y2="407.00" stroke-width="0.6" stroke="#a4a4a4"/>
<line x1="749.20" y1="408.20" x2="755.80" y2="408.20" stroke-width="0.6" stroke="#a4a4a4"/>
<rect x="726.10" y="419.80" width="4.80" height="5.60" stroke-width="0.6" stroke="#a4a4a4" fill="#fff"/>
<line x1="726.10" y1="421.70" x2="730.90" y2="421.70" stroke-width="0.6" stroke="#a4a4a4"/>
<line x1="726.10" y1="423.50" x2="730.90" y2="423.50" stroke-width="0.6" stroke="#a4a4a4"/>
<line x1="728.50" y1="419.80" x2="728.50" y2="425.40" stroke-width="0.6" stroke="#a4a4a4"/>
<line x1="736.61" y1="450.03" x2="732.46" y2="454.36" stroke-width="0.7" stroke="#a4a4a4"/>
<line x1="737.93" y1="451.20" x2="734.13" y2="455.84" stroke-width="0.7" stroke="#a4a4a4"/>
<rect x="774.10" y="419.80" width="4.80" height="5.60" stroke-width="0.6" stroke="#a4a4a4" fill="#fff"/>
<line x1="774.10" y1="421.70" x2="778.90" y2="421.70" stroke-width="0.6" stroke="#a4a4a4"/>
<line x1="774.10" y1="423.50" x2="778.90" y2="423.50" stroke-width="0.6" stroke="#a4a4a4"/>
<line x1="776.50" y1="419.80" x2="776.50" y2="425.40" stroke-width="0.6" stroke="#a4a4a4"/>
<line x1="768.39" y1="450.03" x2="772.54" y2="454.36" stroke-width="0.7" stroke="#a4a4a4"/>
<line x1="767.07" y1="451.20" x2="770.87" y2="455.84" stroke-width="0.7" stroke="#a4a4a4"/>
<circle cx="752.65" cy="432.60" r="15.80" stroke-width="10.7" fill="#fff"/>
<circle cx="752.65" cy="432.90" r="19.20" stroke-width="1.0" stroke="#fff"/>
<circle cx="752.65" cy="432.80" r="17.50" stroke-width="0.7" stroke="#909090"/>
<circle cx="767.65" cy="432.60" r="0.50" stroke-width="0" fill="#e4e4e4"/>
<circle cx="767.32" cy="435.72" r="0.50" stroke-width="0" fill="#e4e4e4"/>
<circle cx="766.35" cy="438.70" r="0.50" stroke-width="0" fill="#e4e4e4"/>
<circle cx="764.79" cy="441.42" r="0.50" stroke-width="0" fill="#e4e4e4"/>
<circle cx="762.69" cy="443.75" r="0.50" stroke-width="0" fill="#e4e4e4"/>
<circle cx="760.15" cy="445.59" r="0.50" stroke-width="0" fill="#e4e4e4"/>
<circle cx="757.29" cy="446.87" r="0.50" stroke-width="0" fill="#e4e4e4"/>
<circle cx="754.22" cy="447.52" r="0.50" stroke-width="0" fill="#e4e4e4"/>
<circle cx="751.08" cy="447.52" r="0.50" stroke-width="0" fill="#e4e4e4"/>
<circle cx="748.01" cy="446.87" r="0.50" stroke-width="0" fill="#e4e4e4"/>
<circle cx="745.15" cy="445.59" r="0.50" stroke-width="0" fill="#e4e4e4"/>
<circle cx="742.61" cy="443.75" r="0.50" stroke-width="0" fill="#e4e4e4"/>
<circle cx="740.51" cy="441.42" r="0.50" stroke-width="0" fill="#e4e4e4"/>
<circle cx="738.95" cy="438.70" r="0.50" stroke-width="0" fill="#e4e4e4"/>
<circle cx="737.98" cy="435.72" r="0.50" stroke-width="0" fill="#e4e4e4"/>
<circle cx="737.65" cy="432.60" r="0.50" stroke-width="0" fill="#e4e4e4"/>
<circle cx="737.98" cy="429.48" r="0.50" stroke-width="0" fill="#e4e4e4"/>
<circle cx="738.95" cy="426.50" r="0.50" stroke-width="0" fill="#e4e4e4"/>
<circle cx="740.51" cy="423.78" r="0.50" stroke-width="0" fill="#e4e4e4"/>
<circle cx="742.61" cy="421.45" r="0.50" stroke-width="0" fill="#e4e4e4"/>
<circle cx="745.15" cy="419.61" r="0.50" stroke-width="0" fill="#e4e4e4"/>
<circle cx="748.01" cy="418.33" r="0.50" stroke-width="0" fill="#e4e4e4"/>
<circle cx="751.08" cy="417.68" r="0.50" stroke-width="0" fill="#e4e4e4"/>
<circle cx="754.22" cy="417.68" r="0.50" stroke-width="0" fill="#e4e4e4"/>
<circle cx="757.29" cy="418.33" r="0.50" stroke-width="0" fill="#e4e4e4"/>
<circle cx="760.15" cy="419.61" r="0.50" stroke-width="0" fill="#e4e4e4"/>
<circle cx="762.69" cy="421.45" r="0.50" stroke-width="0" fill="#e4e4e4"/>
<circle cx="764.79" cy="423.78" r="0.50" stroke-width="0" fill="#e4e4e4"/>
<circle cx="766.35" cy="426.50" r="0.50" stroke-width="0" fill="#e4e4e4"/>
<circle cx="767.32" cy="429.48" r="0.50" stroke-width="0" fill="#e4e4e4"/>
<circle cx="765.16" cy="434.12" r="0.45" stroke-width="0" fill="#9a9a9a"/>
<circle cx="764.43" cy="437.07" r="0.45" stroke-width="0" fill="#9a9a9a"/>
<circle cx="763.02" cy="439.76" r="0.45" stroke-width="0" fill="#9a9a9a"/>
<circle cx="761.01" cy="442.03" r="0.45" stroke-width="0" fill="#9a9a9a"/>
<circle cx="758.51" cy="443.76" r="0.45" stroke-width="0" fill="#9a9a9a"/>
<circle cx="755.67" cy="444.83" r="0.45" stroke-width="0" fill="#9a9a9a"/>
<circle cx="752.65" cy="445.20" r="0.45" stroke-width="0" fill="#9a9a9a"/>
<circle cx="749.63" cy="444.83" r="0.45" stroke-width="0" fill="#9a9a9a"/>
<circle cx="746.79" cy="443.76" r="0.45" stroke-width="0" fill="#9a9a9a"/>
<circle cx="744.29" cy="442.03" r="0.45" stroke-width="0" fill="#9a9a9a"/>
<circle cx="742.28" cy="439.76" r="0.45" stroke-width="0" fill="#9a9a9a"/>
<circle cx="740.87" cy="437.07" r="0.45" stroke-width="0" fill="#9a9a9a"/>
<circle cx="740.14" cy="434.12" r="0.45" stroke-width="0" fill="#9a9a9a"/>
<circle cx="740.14" cy="431.08" r="0.45" stroke-width="0" fill="#9a9a9a"/>
<circle cx="740.87" cy="428.13" r="0.45" stroke-width="0" fill="#9a9a9a"/>
<circle cx="742.28" cy="425.44" r="0.45" stroke-width="0" fill="#9a9a9a"/>
<circle cx="744.29" cy="423.17" r="0.45" stroke-width="0" fill="#9a9a9a"/>
<circle cx="746.79" cy="421.44" r="0.45" stroke-width="0" fill="#9a9a9a"/>
<circle cx="749.63" cy="420.37" r="0.45" stroke-width="0" fill="#9a9a9a"/>
<circle cx="752.65" cy="420.00" r="0.45" stroke-width="0" fill="#9a9a9a"/>
<circle cx="755.67" cy="420.37" r="0.45" stroke-width="0" fill="#9a9a9a"/>
<circle cx="758.51" cy="421.44" r="0.45" stroke-width="0" fill="#9a9a9a"/>
<circle cx="761.01" cy="423.17" r="0.45" stroke-width="0" fill="#9a9a9a"/>
<circle cx="763.02" cy="425.44" r="0.45" stroke-width="0" fill="#9a9a9a"/>
<circle cx="764.43" cy="428.13" r="0.45" stroke-width="0" fill="#9a9a9a"/>
<circle cx="765.16" cy="431.08" r="0.45" stroke-width="0" fill="#9a9a9a"/>
<circle cx="763.09" cy="433.70" r="0.80" stroke-width="0" fill="#000"/>
<circle cx="762.64" cy="435.84" r="0.80" stroke-width="0" fill="#000"/>
<circle cx="761.74" cy="437.85" r="0.80" stroke-width="0" fill="#000"/>
<circle cx="760.45" cy="439.63" r="0.80" stroke-width="0" fill="#000"/>
<circle cx="758.82" cy="441.09" r="0.80" stroke-width="0" fill="#000"/>
<circle cx="756.92" cy="442.19" r="0.80" stroke-width="0" fill="#000"/>
<circle cx="754.83" cy="442.87" r="0.80" stroke-width="0" fill="#000"/>
<circle cx="752.65" cy="443.10" r="0.80" stroke-width="0" fill="#000"/>
<circle cx="750.47" cy="442.87" r="0.80" stroke-width="0" fill="#000"/>
<circle cx="748.38" cy="442.19" r="0.80" stroke-width="0" fill="#000"/>
<circle cx="746.48" cy="441.09" r="0.80" stroke-width="0" fill="#000"/>
<circle cx="744.85" cy="439.63" r="0.80" stroke-width="0" fill="#000"/>
<circle cx="743.56" cy="437.85" r="0.80" stroke-width="0" fill="#000"/>
<circle cx="742.66" cy="435.84" r="0.80" stroke-width="0" fill="#000"/>
<circle cx="742.21" cy="433.70" r="0.80" stroke-width="0" fill="#000"/>
<circle cx="742.21" cy="431.50" r="0.80" stroke-width="0" fill="#000"/>
<circle cx="742.66" cy="429.36" r="0.80" stroke-width="0" fill="#000"/>
<circle cx="743.56" cy="427.35" r="0.80" stroke-width="0" fill="#000"/>
<circle cx="744.85" cy="425.57" r="0.80" stroke-width="0" fill="#000"/>
<circle cx="746.48" cy="424.11" r="0.80" stroke-width="0" fill="#000"/>
<circle cx="748.38" cy="423.01" r="0.80" stroke-width="0" fill="#000"/>
<circle cx="750.47" cy="422.33" r="0.80" stroke-width="0" fill="#000"/>
<circle cx="752.65" cy="422.10" r="0.80" stroke-width="0" fill="#000"/>
<circle cx="754.83" cy="422.33" r="0.80" stroke-width="0" fill="#000"/>
<circle cx="756.92" cy="423.01" r="0.80" stroke-width="0" fill="#000"/>
<circle cx="758.82" cy="424.11" r="0.80" stroke-width="0" fill="#000"/>
<circle cx="760.45" cy="425.57" r="0.80" stroke-width="0" fill="#000"/>
<circle cx="761.74" cy="427.35" r="0.80" stroke-width="0" fill="#000"/>
<circle cx="762.64" cy="429.36" r="0.80" stroke-width="0" fill="#000"/>
<circle cx="763.09" cy="431.50" r="0.80" stroke-width="0" fill="#000"/>
<path d="M762.25 432.20 L772.05 429.00 L772.45 430.40 L762.65 433.60 Z" stroke-width="0.5" stroke="#000" fill="#fff"/>
<circle cx="760.05" cy="433.80" r="3.30" stroke-width="0.9" stroke="#8a8a8a" fill="#fff"/>
<circle cx="760.25" cy="428.00" r="3.00" stroke-width="0.9" stroke="#6a6a6a" fill="#fff"/>
<rect x="758.65" y="430.20" width="3.00" height="2.00" stroke-width="0" fill="#fff"/>
<circle cx="759.05" cy="426.00" r="1.10" stroke-width="0" fill="#000"/>
<path d="M755.05 433.00 l2.0 -0.6 l0 1.6 Z" stroke-width="0.6" stroke="#aaa" fill="#ddd"/>
<path d="M763.45 432.00 q1.4 1.6 0.2 3.4" stroke-width="1.0" stroke="#000"/>
<path d="M765.25 433.00 l0.8 2.4" stroke-width="0.9" stroke="#fff"/>
<rect x="749.15" y="453.50" width="2.00" height="1.70" stroke-width="0" fill="#000"/>
<rect x="754.15" y="453.50" width="2.00" height="1.70" stroke-width="0" fill="#000"/>
<circle cx="841.80" cy="433.40" r="38.50" stroke-width="1.5" fill="#fff"/>
<circle cx="841.80" cy="433.40" r="34.20" stroke-width="1.3" stroke="#a4a4a4"/>
<circle cx="841.80" cy="433.40" r="28.80" stroke-width="1.3" stroke="#ababab"/>
<circle cx="841.80" cy="433.40" r="26.40" stroke-width="1.2" stroke="#b4b4b4"/>
<circle cx="841.80" cy="433.40" r="23.30" stroke-width="1.3" stroke="#ababab"/>
<rect x="836.10" y="405.00" width="2.40" height="4.20" stroke-width="0.6" stroke="#a4a4a4" fill="#fff"/>
<rect x="845.10" y="405.00" width="2.40" height="4.20" stroke-width="0.6" stroke="#a4a4a4" fill="#fff"/>
<line x1="838.50" y1="407.00" x2="845.10" y2="407.00" stroke-width="0.6" stroke="#a4a4a4"/>
<line x1="838.50" y1="408.20" x2="845.10" y2="408.20" stroke-width="0.6" stroke="#a4a4a4"/>
<rect x="815.40" y="419.80" width="4.80" height="5.60" stroke-width="0.6" stroke="#a4a4a4" fill="#fff"/>
<line x1="815.40" y1="421.70" x2="820.20" y2="421.70" stroke-width="0.6" stroke="#a4a4a4"/>
<line x1="815.40" y1="423.50" x2="820.20" y2="423.50" stroke-width="0.6" stroke="#a4a4a4"/>
<line x1="817.80" y1="419.80" x2="817.80" y2="425.40" stroke-width="0.6" stroke="#a4a4a4"/>
<line x1="825.91" y1="450.03" x2="821.76" y2="454.36" stroke-width="0.7" stroke="#a4a4a4"/>
<line x1="827.23" y1="451.20" x2="823.43" y2="455.84" stroke-width="0.7" stroke="#a4a4a4"/>
<rect x="863.40" y="419.80" width="4.80" height="5.60" stroke-width="0.6" stroke="#a4a4a4" fill="#fff"/>
<line x1="863.40" y1="421.70" x2="868.20" y2="421.70" stroke-width="0.6" stroke="#a4a4a4"/>
<line x1="863.40" y1="423.50" x2="868.20" y2="423.50" stroke-width="0.6" stroke="#a4a4a4"/>
<line x1="865.80" y1="419.80" x2="865.80" y2="425.40" stroke-width="0.6" stroke="#a4a4a4"/>
<line x1="857.69" y1="450.03" x2="861.84" y2="454.36" stroke-width="0.7" stroke="#a4a4a4"/>
<line x1="856.37" y1="451.20" x2="860.17" y2="455.84" stroke-width="0.7" stroke="#a4a4a4"/>
<circle cx="841.95" cy="432.60" r="15.80" stroke-width="10.7" fill="#fff"/>
<circle cx="841.95" cy="432.90" r="19.20" stroke-width="1.0" stroke="#fff"/>
<circle cx="841.95" cy="432.80" r="17.50" stroke-width="0.7" stroke="#909090"/>
<circle cx="856.95" cy="432.60" r="0.50" stroke-width="0" fill="#e4e4e4"/>
<circle cx="856.62" cy="435.72" r="0.50" stroke-width="0" fill="#e4e4e4"/>
<circle cx="855.65" cy="438.70" r="0.50" stroke-width="0" fill="#e4e4e4"/>
<circle cx="854.09" cy="441.42" r="0.50" stroke-width="0" fill="#e4e4e4"/>
<circle cx="851.99" cy="443.75" r="0.50" stroke-width="0" fill="#e4e4e4"/>
<circle cx="849.45" cy="445.59" r="0.50" stroke-width="0" fill="#e4e4e4"/>
<circle cx="846.59" cy="446.87" r="0.50" stroke-width="0" fill="#e4e4e4"/>
<circle cx="843.52" cy="447.52" r="0.50" stroke-width="0" fill="#e4e4e4"/>
<circle cx="840.38" cy="447.52" r="0.50" stroke-width="0" fill="#e4e4e4"/>
<circle cx="837.31" cy="446.87" r="0.50" stroke-width="0" fill="#e4e4e4"/>
<circle cx="834.45" cy="445.59" r="0.50" stroke-width="0" fill="#e4e4e4"/>
<circle cx="831.91" cy="443.75" r="0.50" stroke-width="0" fill="#e4e4e4"/>
<circle cx="829.81" cy="441.42" r="0.50" stroke-width="0" fill="#e4e4e4"/>
<circle cx="828.25" cy="438.70" r="0.50" stroke-width="0" fill="#e4e4e4"/>
<circle cx="827.28" cy="435.72" r="0.50" stroke-width="0" fill="#e4e4e4"/>
<circle cx="826.95" cy="432.60" r="0.50" stroke-width="0" fill="#e4e4e4"/>
<circle cx="827.28" cy="429.48" r="0.50" stroke-width="0" fill="#e4e4e4"/>
<circle cx="828.25" cy="426.50" r="0.50" stroke-width="0" fill="#e4e4e4"/>
<circle cx="829.81" cy="423.78" r="0.50" stroke-width="0" fill="#e4e4e4"/>
<circle cx="831.91" cy="421.45" r="0.50" stroke-width="0" fill="#e4e4e4"/>
<circle cx="834.45" cy="419.61" r="0.50" stroke-width="0" fill="#e4e4e4"/>
<circle cx="837.31" cy="418.33" r="0.50" stroke-width="0" fill="#e4e4e4"/>
<circle cx="840.38" cy="417.68" r="0.50" stroke-width="0" fill="#e4e4e4"/>
<circle cx="843.52" cy="417.68" r="0.50" stroke-width="0" fill="#e4e4e4"/>
<circle cx="846.59" cy="418.33" r="0.50" stroke-width="0" fill="#e4e4e4"/>
<circle cx="849.45" cy="419.61" r="0.50" stroke-width="0" fill="#e4e4e4"/>
<circle cx="851.99" cy="421.45" r="0.50" stroke-width="0" fill="#e4e4e4"/>
<circle cx="854.09" cy="423.78" r="0.50" stroke-width="0" fill="#e4e4e4"/>
<circle cx="855.65" cy="426.50" r="0.50" stroke-width="0" fill="#e4e4e4"/>
<circle cx="856.62" cy="429.48" r="0.50" stroke-width="0" fill="#e4e4e4"/>
<circle cx="854.46" cy="434.12" r="0.45" stroke-width="0" fill="#9a9a9a"/>
<circle cx="853.73" cy="437.07" r="0.45" stroke-width="0" fill="#9a9a9a"/>
<circle cx="852.32" cy="439.76" r="0.45" stroke-width="0" fill="#9a9a9a"/>
<circle cx="850.31" cy="442.03" r="0.45" stroke-width="0" fill="#9a9a9a"/>
<circle cx="847.81" cy="443.76" r="0.45" stroke-width="0" fill="#9a9a9a"/>
<circle cx="844.97" cy="444.83" r="0.45" stroke-width="0" fill="#9a9a9a"/>
<circle cx="841.95" cy="445.20" r="0.45" stroke-width="0" fill="#9a9a9a"/>
<circle cx="838.93" cy="444.83" r="0.45" stroke-width="0" fill="#9a9a9a"/>
<circle cx="836.09" cy="443.76" r="0.45" stroke-width="0" fill="#9a9a9a"/>
<circle cx="833.59" cy="442.03" r="0.45" stroke-width="0" fill="#9a9a9a"/>
<circle cx="831.58" cy="439.76" r="0.45" stroke-width="0" fill="#9a9a9a"/>
<circle cx="830.17" cy="437.07" r="0.45" stroke-width="0" fill="#9a9a9a"/>
<circle cx="829.44" cy="434.12" r="0.45" stroke-width="0" fill="#9a9a9a"/>
<circle cx="829.44" cy="431.08" r="0.45" stroke-width="0" fill="#9a9a9a"/>
<circle cx="830.17" cy="428.13" r="0.45" stroke-width="0" fill="#9a9a9a"/>
<circle cx="831.58" cy="425.44" r="0.45" stroke-width="0" fill="#9a9a9a"/>
<circle cx="833.59" cy="423.17" r="0.45" stroke-width="0" fill="#9a9a9a"/>
<circle cx="836.09" cy="421.44" r="0.45" stroke-width="0" fill="#9a9a9a"/>
<circle cx="838.93" cy="420.37" r="0.45" stroke-width="0" fill="#9a9a9a"/>
<circle cx="841.95" cy="420.00" r="0.45" stroke-width="0" fill="#9a9a9a"/>
<circle cx="844.97" cy="420.37" r="0.45" stroke-width="0" fill="#9a9a9a"/>
<circle cx="847.81" cy="421.44" r="0.45" stroke-width="0" fill="#9a9a9a"/>
<circle cx="850.31" cy="423.17" r="0.45" stroke-width="0" fill="#9a9a9a"/>
<circle cx="852.32" cy="425.44" r="0.45" stroke-width="0" fill="#9a9a9a"/>
<circle cx="853.73" cy="428.13" r="0.45" stroke-width="0" fill="#9a9a9a"/>
<circle cx="854.46" cy="431.08" r="0.45" stroke-width="0" fill="#9a9a9a"/>
<circle cx="852.39" cy="433.70" r="0.80" stroke-width="0" fill="#000"/>
<circle cx="851.94" cy="435.84" r="0.80" stroke-width="0" fill="#000"/>
<circle cx="851.04" cy="437.85" r="0.80" stroke-width="0" fill="#000"/>
<circle cx="849.75" cy="439.63" r="0.80" stroke-width="0" fill="#000"/>
<circle cx="848.12" cy="441.09" r="0.80" stroke-width="0" fill="#000"/>
<circle cx="846.22" cy="442.19" r="0.80" stroke-width="0" fill="#000"/>
<circle cx="844.13" cy="442.87" r="0.80" stroke-width="0" fill="#000"/>
<circle cx="841.95" cy="443.10" r="0.80" stroke-width="0" fill="#000"/>
<circle cx="839.77" cy="442.87" r="0.80" stroke-width="0" fill="#000"/>
<circle cx="837.68" cy="442.19" r="0.80" stroke-width="0" fill="#000"/>
<circle cx="835.78" cy="441.09" r="0.80" stroke-width="0" fill="#000"/>
<circle cx="834.15" cy="439.63" r="0.80" stroke-width="0" fill="#000"/>
<circle cx="832.86" cy="437.85" r="0.80" stroke-width="0" fill="#000"/>
<circle cx="831.96" cy="435.84" r="0.80" stroke-width="0" fill="#000"/>
<circle cx="831.51" cy="433.70" r="0.80" stroke-width="0" fill="#000"/>
<circle cx="831.51" cy="431.50" r="0.80" stroke-width="0" fill="#000"/>
<circle cx="831.96" cy="429.36" r="0.80" stroke-width="0" fill="#000"/>
<circle cx="832.86" cy="427.35" r="0.80" stroke-width="0" fill="#000"/>
<circle cx="834.15" cy="425.57" r="0.80" stroke-width="0" fill="#000"/>
<circle cx="835.78" cy="424.11" r="0.80" stroke-width="0" fill="#000"/>
<circle cx="837.68" cy="423.01" r="0.80" stroke-width="0" fill="#000"/>
<circle cx="839.77" cy="422.33" r="0.80" stroke-width="0" fill="#000"/>
<circle cx="841.95" cy="422.10" r="0.80" stroke-width="0" fill="#000"/>
<circle cx="844.13" cy="422.33" r="0.80" stroke-width="0" fill="#000"/>
<circle cx="846.22" cy="423.01" r="0.80" stroke-width="0" fill="#000"/>
<circle cx="848.12" cy="424.11" r="0.80" stroke-width="0" fill="#000"/>
<circle cx="849.75" cy="425.57" r="0.80" stroke-width="0" fill="#000"/>
<circle cx="851.04" cy="427.35" r="0.80" stroke-width="0" fill="#000"/>
<circle cx="851.94" cy="429.36" r="0.80" stroke-width="0" fill="#000"/>
<circle cx="852.39" cy="431.50" r="0.80" stroke-width="0" fill="#000"/>
<path d="M851.55 432.20 L861.35 429.00 L861.75 430.40 L851.95 433.60 Z" stroke-width="0.5" stroke="#000" fill="#fff"/>
<circle cx="849.35" cy="433.80" r="3.30" stroke-width="0.9" stroke="#8a8a8a" fill="#fff"/>
<circle cx="849.55" cy="428.00" r="3.00" stroke-width="0.9" stroke="#6a6a6a" fill="#fff"/>
<rect x="847.95" y="430.20" width="3.00" height="2.00" stroke-width="0" fill="#fff"/>
<circle cx="848.35" cy="426.00" r="1.10" stroke-width="0" fill="#000"/>
<path d="M844.35 433.00 l2.0 -0.6 l0 1.6 Z" stroke-width="0.6" stroke="#aaa" fill="#ddd"/>
<path d="M852.75 432.00 q1.4 1.6 0.2 3.4" stroke-width="1.0" stroke="#000"/>
<path d="M854.55 433.00 l0.8 2.4" stroke-width="0.9" stroke="#fff"/>
<rect x="838.45" y="453.50" width="2.00" height="1.70" stroke-width="0" fill="#000"/>
<rect x="843.45" y="453.50" width="2.00" height="1.70" stroke-width="0" fill="#000"/>
<circle cx="931.10" cy="433.40" r="38.50" stroke-width="1.5" fill="#fff"/>
<circle cx="931.10" cy="433.40" r="34.20" stroke-width="1.3" stroke="#a4a4a4"/>
<circle cx="931.10" cy="433.40" r="28.80" stroke-width="1.3" stroke="#ababab"/>
<circle cx="931.10" cy="433.40" r="26.40" stroke-width="1.2" stroke="#b4b4b4"/>
<circle cx="931.10" cy="433.40" r="23.30" stroke-width="1.3" stroke="#ababab"/>
<rect x="925.40" y="405.00" width="2.40" height="4.20" stroke-width="0.6" stroke="#a4a4a4" fill="#fff"/>
<rect x="934.40" y="405.00" width="2.40" height="4.20" stroke-width="0.6" stroke="#a4a4a4" fill="#fff"/>
<line x1="927.80" y1="407.00" x2="934.40" y2="407.00" stroke-width="0.6" stroke="#a4a4a4"/>
<line x1="927.80" y1="408.20" x2="934.40" y2="408.20" stroke-width="0.6" stroke="#a4a4a4"/>
<rect x="904.70" y="419.80" width="4.80" height="5.60" stroke-width="0.6" stroke="#a4a4a4" fill="#fff"/>
<line x1="904.70" y1="421.70" x2="909.50" y2="421.70" stroke-width="0.6" stroke="#a4a4a4"/>
<line x1="904.70" y1="423.50" x2="909.50" y2="423.50" stroke-width="0.6" stroke="#a4a4a4"/>
<line x1="907.10" y1="419.80" x2="907.10" y2="425.40" stroke-width="0.6" stroke="#a4a4a4"/>
<line x1="915.21" y1="450.03" x2="911.06" y2="454.36" stroke-width="0.7" stroke="#a4a4a4"/>
<line x1="916.53" y1="451.20" x2="912.73" y2="455.84" stroke-width="0.7" stroke="#a4a4a4"/>
<rect x="952.70" y="419.80" width="4.80" height="5.60" stroke-width="0.6" stroke="#a4a4a4" fill="#fff"/>
<line x1="952.70" y1="421.70" x2="957.50" y2="421.70" stroke-width="0.6" stroke="#a4a4a4"/>
<line x1="952.70" y1="423.50" x2="957.50" y2="423.50" stroke-width="0.6" stroke="#a4a4a4"/>
<line x1="955.10" y1="419.80" x2="955.10" y2="425.40" stroke-width="0.6" stroke="#a4a4a4"/>
<line x1="946.99" y1="450.03" x2="951.14" y2="454.36" stroke-width="0.7" stroke="#a4a4a4"/>
<line x1="945.67" y1="451.20" x2="949.47" y2="455.84" stroke-width="0.7" stroke="#a4a4a4"/>
<circle cx="931.25" cy="432.60" r="15.80" stroke-width="10.7" fill="#fff"/>
<circle cx="931.25" cy="432.90" r="19.20" stroke-width="1.0" stroke="#fff"/>
<circle cx="931.25" cy="432.80" r="17.50" stroke-width="0.7" stroke="#909090"/>
<circle cx="946.25" cy="432.60" r="0.50" stroke-width="0" fill="#e4e4e4"/>
<circle cx="945.92" cy="435.72" r="0.50" stroke-width="0" fill="#e4e4e4"/>
<circle cx="944.95" cy="438.70" r="0.50" stroke-width="0" fill="#e4e4e4"/>
<circle cx="943.39" cy="441.42" r="0.50" stroke-width="0" fill="#e4e4e4"/>
<circle cx="941.29" cy="443.75" r="0.50" stroke-width="0" fill="#e4e4e4"/>
<circle cx="938.75" cy="445.59" r="0.50" stroke-width="0" fill="#e4e4e4"/>
<circle cx="935.89" cy="446.87" r="0.50" stroke-width="0" fill="#e4e4e4"/>
<circle cx="932.82" cy="447.52" r="0.50" stroke-width="0" fill="#e4e4e4"/>
<circle cx="929.68" cy="447.52" r="0.50" stroke-width="0" fill="#e4e4e4"/>
<circle cx="926.61" cy="446.87" r="0.50" stroke-width="0" fill="#e4e4e4"/>
<circle cx="923.75" cy="445.59" r="0.50" stroke-width="0" fill="#e4e4e4"/>
<circle cx="921.21" cy="443.75" r="0.50" stroke-width="0" fill="#e4e4e4"/>
<circle cx="919.11" cy="441.42" r="0.50" stroke-width="0" fill="#e4e4e4"/>
<circle cx="917.55" cy="438.70" r="0.50" stroke-width="0" fill="#e4e4e4"/>
<circle cx="916.58" cy="435.72" r="0.50" stroke-width="0" fill="#e4e4e4"/>
<circle cx="916.25" cy="432.60" r="0.50" stroke-width="0" fill="#e4e4e4"/>
<circle cx="916.58" cy="429.48" r="0.50" stroke-width="0" fill="#e4e4e4"/>
<circle cx="917.55" cy="426.50" r="0.50" stroke-width="0" fill="#e4e4e4"/>
<circle cx="919.11" cy="423.78" r="0.50" stroke-width="0" fill="#e4e4e4"/>
<circle cx="921.21" cy="421.45" r="0.50" stroke-width="0" fill="#e4e4e4"/>
<circle cx="923.75" cy="419.61" r="0.50" stroke-width="0" fill="#e4e4e4"/>
<circle cx="926.61" cy="418.33" r="0.50" stroke-width="0" fill="#e4e4e4"/>
<circle cx="929.68" cy="417.68" r="0.50" stroke-width="0" fill="#e4e4e4"/>
<circle cx="932.82" cy="417.68" r="0.50" stroke-width="0" fill="#e4e4e4"/>
<circle cx="935.89" cy="418.33" r="0.50" stroke-width="0" fill="#e4e4e4"/>
<circle cx="938.75" cy="419.61" r="0.50" stroke-width="0" fill="#e4e4e4"/>
<circle cx="941.29" cy="421.45" r="0.50" stroke-width="0" fill="#e4e4e4"/>
<circle cx="943.39" cy="423.78" r="0.50" stroke-width="0" fill="#e4e4e4"/>
<circle cx="944.95" cy="426.50" r="0.50" stroke-width="0" fill="#e4e4e4"/>
<circle cx="945.92" cy="429.48" r="0.50" stroke-width="0" fill="#e4e4e4"/>
<circle cx="943.76" cy="434.12" r="0.45" stroke-width="0" fill="#9a9a9a"/>
<circle cx="943.03" cy="437.07" r="0.45" stroke-width="0" fill="#9a9a9a"/>
<circle cx="941.62" cy="439.76" r="0.45" stroke-width="0" fill="#9a9a9a"/>
<circle cx="939.61" cy="442.03" r="0.45" stroke-width="0" fill="#9a9a9a"/>
<circle cx="937.11" cy="443.76" r="0.45" stroke-width="0" fill="#9a9a9a"/>
<circle cx="934.27" cy="444.83" r="0.45" stroke-width="0" fill="#9a9a9a"/>
<circle cx="931.25" cy="445.20" r="0.45" stroke-width="0" fill="#9a9a9a"/>
<circle cx="928.23" cy="444.83" r="0.45" stroke-width="0" fill="#9a9a9a"/>
<circle cx="925.39" cy="443.76" r="0.45" stroke-width="0" fill="#9a9a9a"/>
<circle cx="922.89" cy="442.03" r="0.45" stroke-width="0" fill="#9a9a9a"/>
<circle cx="920.88" cy="439.76" r="0.45" stroke-width="0" fill="#9a9a9a"/>
<circle cx="919.47" cy="437.07" r="0.45" stroke-width="0" fill="#9a9a9a"/>
<circle cx="918.74" cy="434.12" r="0.45" stroke-width="0" fill="#9a9a9a"/>
<circle cx="918.74" cy="431.08" r="0.45" stroke-width="0" fill="#9a9a9a"/>
<circle cx="919.47" cy="428.13" r="0.45" stroke-width="0" fill="#9a9a9a"/>
<circle cx="920.88" cy="425.44" r="0.45" stroke-width="0" fill="#9a9a9a"/>
<circle cx="922.89" cy="423.17" r="0.45" stroke-width="0" fill="#9a9a9a"/>
<circle cx="925.39" cy="421.44" r="0.45" stroke-width="0" fill="#9a9a9a"/>
<circle cx="928.23" cy="420.37" r="0.45" stroke-width="0" fill="#9a9a9a"/>
<circle cx="931.25" cy="420.00" r="0.45" stroke-width="0" fill="#9a9a9a"/>
<circle cx="934.27" cy="420.37" r="0.45" stroke-width="0" fill="#9a9a9a"/>
<circle cx="937.11" cy="421.44" r="0.45" stroke-width="0" fill="#9a9a9a"/>
<circle cx="939.61" cy="423.17" r="0.45" stroke-width="0" fill="#9a9a9a"/>
<circle cx="941.62" cy="425.44" r="0.45" stroke-width="0" fill="#9a9a9a"/>
<circle cx="943.03" cy="428.13" r="0.45" stroke-width="0" fill="#9a9a9a"/>
<circle cx="943.76" cy="431.08" r="0.45" stroke-width="0" fill="#9a9a9a"/>
<circle cx="941.69" cy="433.70" r="0.80" stroke-width="0" fill="#000"/>
<circle cx="941.24" cy="435.84" r="0.80" stroke-width="0" fill="#000"/>
<circle cx="940.34" cy="437.85" r="0.80" stroke-width="0" fill="#000"/>
<circle cx="939.05" cy="439.63" r="0.80" stroke-width="0" fill="#000"/>
<circle cx="937.42" cy="441.09" r="0.80" stroke-width="0" fill="#000"/>
<circle cx="935.52" cy="442.19" r="0.80" stroke-width="0" fill="#000"/>
<circle cx="933.43" cy="442.87" r="0.80" stroke-width="0" fill="#000"/>
<circle cx="931.25" cy="443.10" r="0.80" stroke-width="0" fill="#000"/>
<circle cx="929.07" cy="442.87" r="0.80" stroke-width="0" fill="#000"/>
<circle cx="926.98" cy="442.19" r="0.80" stroke-width="0" fill="#000"/>
<circle cx="925.08" cy="441.09" r="0.80" stroke-width="0" fill="#000"/>
<circle cx="923.45" cy="439.63" r="0.80" stroke-width="0" fill="#000"/>
<circle cx="922.16" cy="437.85" r="0.80" stroke-width="0" fill="#000"/>
<circle cx="921.26" cy="435.84" r="0.80" stroke-width="0" fill="#000"/>
<circle cx="920.81" cy="433.70" r="0.80" stroke-width="0" fill="#000"/>
<circle cx="920.81" cy="431.50" r="0.80" stroke-width="0" fill="#000"/>
<circle cx="921.26" cy="429.36" r="0.80" stroke-width="0" fill="#000"/>
<circle cx="922.16" cy="427.35" r="0.80" stroke-width="0" fill="#000"/>
<circle cx="923.45" cy="425.57" r="0.80" stroke-width="0" fill="#000"/>
<circle cx="925.08" cy="424.11" r="0.80" stroke-width="0" fill="#000"/>
<circle cx="926.98" cy="423.01" r="0.80" stroke-width="0" fill="#000"/>
<circle cx="929.07" cy="422.33" r="0.80" stroke-width="0" fill="#000"/>
<circle cx="931.25" cy="422.10" r="0.80" stroke-width="0" fill="#000"/>
<circle cx="933.43" cy="422.33" r="0.80" stroke-width="0" fill="#000"/>
<circle cx="935.52" cy="423.01" r="0.80" stroke-width="0" fill="#000"/>
<circle cx="937.42" cy="424.11" r="0.80" stroke-width="0" fill="#000"/>
<circle cx="939.05" cy="425.57" r="0.80" stroke-width="0" fill="#000"/>
<circle cx="940.34" cy="427.35" r="0.80" stroke-width="0" fill="#000"/>
<circle cx="941.24" cy="429.36" r="0.80" stroke-width="0" fill="#000"/>
<circle cx="941.69" cy="431.50" r="0.80" stroke-width="0" fill="#000"/>
<path d="M940.85 432.20 L950.65 429.00 L951.05 430.40 L941.25 433.60 Z" stroke-width="0.5" stroke="#000" fill="#fff"/>
<circle cx="938.65" cy="433.80" r="3.30" stroke-width="0.9" stroke="#8a8a8a" fill="#fff"/>
<circle cx="938.85" cy="428.00" r="3.00" stroke-width="0.9" stroke="#6a6a6a" fill="#fff"/>
<rect x="937.25" y="430.20" width="3.00" height="2.00" stroke-width="0" fill="#fff"/>
<circle cx="937.65" cy="426.00" r="1.10" stroke-width="0" fill="#000"/>
<path d="M933.65 433.00 l2.0 -0.6 l0 1.6 Z" stroke-width="0.6" stroke="#aaa" fill="#ddd"/>
<path d="M942.05 432.00 q1.4 1.6 0.2 3.4" stroke-width="1.0" stroke="#000"/>
<path d="M943.85 433.00 l0.8 2.4" stroke-width="0.9" stroke="#fff"/>
<rect x="927.75" y="453.50" width="2.00" height="1.70" stroke-width="0" fill="#000"/>
<rect x="932.75" y="453.50" width="2.00" height="1.70" stroke-width="0" fill="#000"/>
<line x1="708.00" y1="395.40" x2="975.70" y2="395.40" stroke-width="1.3"/>
<line x1="708.00" y1="477.30" x2="975.70" y2="477.30" stroke-width="1.5" stroke="#6a6a6a"/>
<line x1="708.00" y1="492.40" x2="975.70" y2="492.40" stroke-width="1.5" stroke="#6a6a6a"/>
<rect x="710.2" y="480.20" width="129.8" height="9.2" fill="url(#hatch)" stroke="none"/>
<rect x="844" y="480.20" width="129.6" height="9.2" fill="url(#hatch)" stroke="none"/>
<line x1="842.00" y1="477.30" x2="842.00" y2="492.40" stroke-width="0.9" stroke="#999"/>
<polygon points="713.20,480.20 714.80,482.40 714.80,487.20 713.20,489.40" fill="#fff" stroke="none" opacity="0.55"/>
<polygon points="970.60,480.20 969.00,482.40 969.00,487.20 970.60,489.40" fill="#fff" stroke="none" opacity="0.55"/>
<line x1="975.70" y1="477.40" x2="988.60" y2="477.40" stroke-width="1.0"/>
<line x1="975.70" y1="492.20" x2="988.60" y2="492.20" stroke-width="1.0"/>
<line x1="987.30" y1="477.40" x2="987.30" y2="492.20"/>
<polygon points="987.30,477.40 985.85,482.20 988.75,482.20" fill="#000" stroke="none"/>
<polygon points="987.30,492.20 985.85,487.40 988.75,487.40" fill="#000" stroke="none"/>
<text transform="translate(1002.10 484.90) rotate(-90)" font-size="16.2" text-anchor="middle">100</text>
</g>
</svg>
</body>
</html>
